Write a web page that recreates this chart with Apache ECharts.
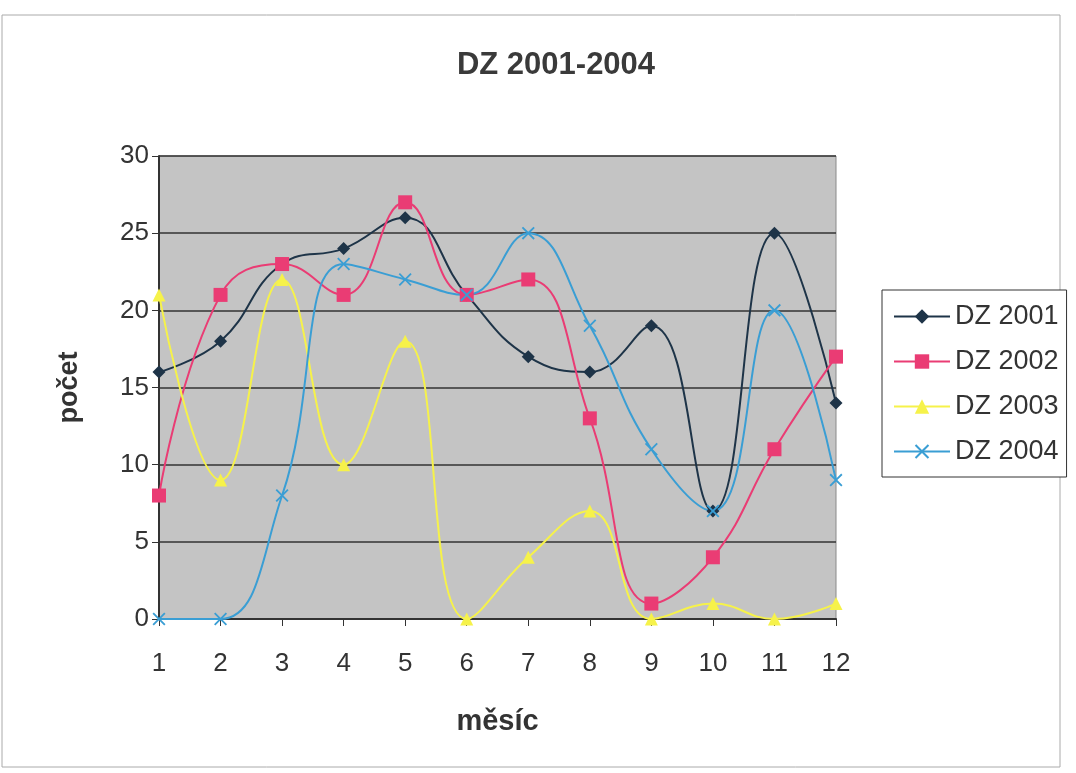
<!DOCTYPE html>
<html>
<head>
<meta charset="utf-8">
<script src="https://cdn.jsdelivr.net/npm/echarts@6/dist/echarts.min.js"></script>
<style>
  html, body { margin: 0; padding: 0; background: #fff; }
  #chart { width: 1076px; height: 773px; }
</style>
</head>
<body>
<div id="chart"></div>
<script>
// data
const months = ['1', '2', '3', '4', '5', '6', '7', '8', '9', '10', '11', '12'];
const dz2001 = [16, 18, 23, 24, 26, 21, 17, 16, 19, 7, 25, 14];
const dz2002 = [8, 21, 23, 21, 27, 21, 22, 13, 1, 4, 11, 17];
const dz2003 = [21, 9, 22, 10, 18, 0, 4, 7, 0, 1, 0, 1];
const dz2004 = [0, 0, 8, 23, 22, 21, 25, 19, 11, 7, 20, 9];
const yTicks = [0, 5, 10, 15, 20, 25, 30];

const font = '"Liberation Sans", Arial, sans-serif';
const crossPath = 'path://M0,1L1,0L5,4L9,0L10,1L6,5L10,9L9,10L5,6L1,10L0,9L4,5Z';

function line(name, data, color, symbol, size) {
    return {
        name: name,
        type: 'line',
        data: data,
        smooth: 0.45,
        symbol: symbol,
        symbolSize: size,
        lineStyle: { color: color, width: 2 },
        itemStyle: { color: color },
        z: 3
    };
}

const chart = echarts.init(document.getElementById('chart'));
chart.setOption({
    animation: false,
    backgroundColor: '#ffffff',
    title: {
        text: 'DZ 2001-2004',
        left: 551,
        top: 45,
        textAlign: 'center',
        textStyle: { fontFamily: font, fontSize: 31, fontWeight: 'bold', color: '#3a3a3a' }
    },
    graphic: [{
        type: 'rect',
        shape: { x: 2, y: 15, width: 1058, height: 752 },
        style: { fill: 'none', stroke: '#aaa', lineWidth: 1 },
        silent: true
    }],
    legend: {
        orient: 'vertical',
        left: 882,
        top: 290,
        width: 193,
        padding: [13, 8, 12, 11],
        itemGap: 18,
        itemWidth: 56,
        itemHeight: 18,
        borderColor: '#333',
        borderWidth: 1,
        backgroundColor: '#fff',
        textStyle: { fontFamily: font, fontSize: 27, color: '#333', lineHeight: 27 },
        data: ['DZ 2001', 'DZ 2002', 'DZ 2003', 'DZ 2004']
    },
    grid: { left: 159, right: 240, top: 156, bottom: 154, backgroundColor: '#c4c4c4', show: true, borderColor: '#8a8a8a', borderWidth: 1 },
    xAxis: {
        type: 'category',
        data: months,
        boundaryGap: false,
        name: 'měsíc',
        nameLocation: 'middle',
        nameGap: 88,
        nameTextStyle: { fontFamily: font, fontSize: 29, fontWeight: 'bold', color: '#333' },
        axisLine: { lineStyle: { color: '#333', width: 2 } },
        axisTick: { show: true, length: 7, lineStyle: { color: '#333' } },
        axisLabel: { fontFamily: font, fontSize: 26, color: '#333', margin: 32 }
    },
    yAxis: {
        type: 'value',
        min: yTicks[0],
        max: yTicks[yTicks.length - 1],
        interval: 5,
        name: 'počet',
        nameLocation: 'middle',
        nameGap: 76,
        nameTextStyle: { fontFamily: font, fontSize: 27, fontWeight: 'bold', color: '#333' },
        axisLine: { show: true, lineStyle: { color: '#333', width: 2 } },
        axisTick: { show: true, length: 7, lineStyle: { color: '#333' } },
        axisLabel: { fontFamily: font, fontSize: 26, color: '#333', margin: 10 },
        splitLine: { lineStyle: { color: '#333', width: 1.5 } }
    },
    series: [
        line('DZ 2001', dz2001, '#1e3448', 'diamond', 13),
        line('DZ 2002', dz2002, '#ea3c74', 'rect', 14),
        line('DZ 2003', dz2003, '#f6f24a', 'triangle', 13),
        line('DZ 2004', dz2004, '#3a9ed4', crossPath, 13)
    ]
});
</script>
</body>
</html>
